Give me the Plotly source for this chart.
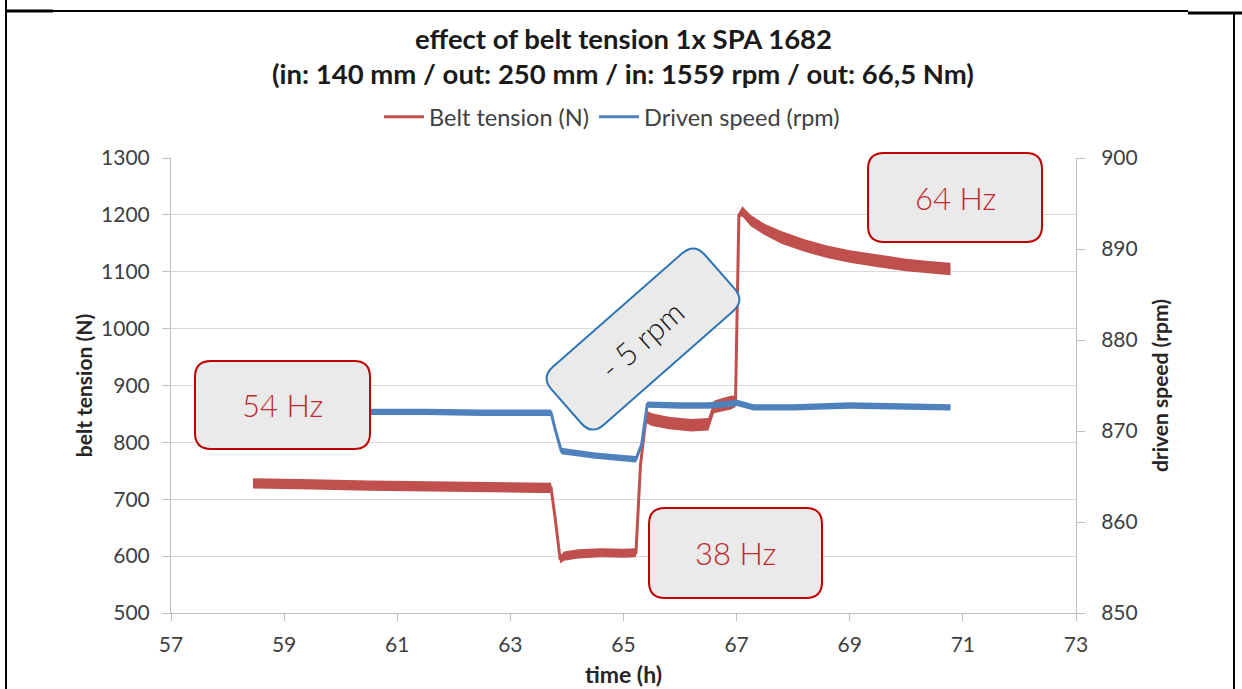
import math
import plotly.graph_objects as go

# ---------------- data ----------------
time_tension = [58.45, 58.8, 59.5, 60.5, 61.5, 62.5, 63.5, 63.72, 63.80, 63.88, 63.95,
                64.2, 64.6, 65.0, 65.22, 65.30, 65.40, 65.50, 65.8, 66.2, 66.5, 66.6,
                66.75, 66.9, 66.98, 67.04, 67.10, 67.25, 67.5, 67.8, 68.2, 68.6, 69.0,
                69.5, 70.0, 70.4, 70.78]
belt_tension = [728, 727, 726, 724, 723, 721, 720, 720, 660, 594, 600,
                604, 606, 605, 606, 760, 845, 840, 834, 830, 832, 862,
                866, 870, 872, 1200, 1206, 1190, 1174, 1160, 1146, 1135, 1127,
                1119, 1112, 1108, 1105]
tension_spread = [9, 9, 9, 9, 9, 9, 9, 9, 5, 7, 8,
                  8, 8, 8, 8, 4, 11, 11, 11, 11, 11, 11,
                  12, 12, 10, 4, 9, 10, 10, 11, 11, 11, 11,
                  11, 11, 11, 11]

time_speed = [58.45, 59.5, 60.5, 61.5, 62.5, 63.5, 63.72, 63.80, 63.90, 64.5, 65.0,
              65.22, 65.32, 65.42, 66.0, 66.5, 66.9, 67.0, 67.3, 68.0, 69.0, 70.0, 70.78]
driven_speed = [872.2, 872.2, 872.1, 872.1, 872.0, 872.0, 872.0, 870.0, 867.8, 867.3, 867.0,
                866.9, 868.5, 872.9, 872.8, 872.8, 873.0, 873.1, 872.6, 872.6, 872.8, 872.7, 872.6]
speed_spread = 0.35

x_ticks = [57, 59, 61, 63, 65, 67, 69, 71, 73]

title_1 = "effect of belt tension 1x SPA 1682"
title_2 = "(in: 140 mm / out: 250 mm / in: 1559 rpm / out: 66,5 Nm)"

RED = "#C0504D"
BLUE = "#4F81BD"

# ---------------- layout geometry ----------------
W, H = 1242, 689
L, R, T, B = 171, 166, 158, 76
PW = W - L - R
PH = H - T - B
PB = T + PH


def paper(px, py):
    return (px - L) / PW, (PB - py) / PH


def rrect(cx, cy, w, h, r, ang=0.0):
    a = math.radians(ang)
    ca, sa = math.cos(a), math.sin(a)
    hw, hh = w / 2, h / 2

    def P(x, y):
        X = cx + x * ca - y * sa
        Y = cy + x * sa + y * ca
        xp, yp = paper(X, Y)
        return f"{xp:.5f},{yp:.5f}"

    return (f"M{P(-hw + r, -hh)} L{P(hw - r, -hh)} Q{P(hw, -hh)} {P(hw, -hh + r)} "
            f"L{P(hw, hh - r)} Q{P(hw, hh)} {P(hw - r, hh)} L{P(-hw + r, hh)} "
            f"Q{P(-hw, hh)} {P(-hw, hh - r)} L{P(-hw, -hh + r)} Q{P(-hw, -hh)} {P(-hw + r, -hh)} Z")


fig = go.Figure()

# noise bands
up = [v + s for v, s in zip(belt_tension, tension_spread)]
lo = [v - s for v, s in zip(belt_tension, tension_spread)]
fig.add_trace(go.Scatter(x=time_tension + time_tension[::-1], y=up + lo[::-1],
                         fill="toself", fillcolor=RED, line=dict(width=0, color=RED),
                         mode="lines", showlegend=False, hoverinfo="skip"))
sup = [v + speed_spread for v in driven_speed]
slo = [v - speed_spread for v in driven_speed]
fig.add_trace(go.Scatter(x=time_speed + time_speed[::-1], y=sup + slo[::-1], yaxis="y2",
                         fill="toself", fillcolor=BLUE, line=dict(width=0, color=BLUE),
                         mode="lines", showlegend=False, hoverinfo="skip"))

fig.add_trace(go.Scatter(x=time_tension, y=belt_tension, mode="lines",
                         name="Belt tension (N)", line=dict(color=RED, width=3)))
fig.add_trace(go.Scatter(x=time_speed, y=driven_speed, mode="lines", yaxis="y2",
                         name="Driven speed (rpm)", line=dict(color=BLUE, width=3)))

FONT = "Lato, 'Open Sans', sans-serif"
AX = "#BFBFBF"
TXT = "#404040"

shapes = []


def pline(x0, y0, x1, y1, w=2):
    a0 = paper(x0, y0)
    a1 = paper(x1, y1)
    return dict(type="line", xref="paper", yref="paper", x0=a0[0], y0=a0[1], x1=a1[0], y1=a1[1],
                line=dict(color="black", width=w), layer="above")


shapes += [pline(6, 11, 1188, 11), pline(6, 11, 53, 11, 3), pline(1188, 13, 1242, 13, 3),
           pline(6, 0, 6, 689), pline(1234, 12, 1234, 689)]

BOX_FILL = "#EAEAEA"
BOX_RED = "#C00000"
BOX_BLUE = "#2E75B6"
boxes = [
    ("54 Hz", 282.5, 405, 175, 88, 0.0, BOX_RED),
    ("38 Hz", 735.5, 553, 173, 90, 0.0, BOX_RED),
    ("64 Hz", 955, 197.5, 174, 89, 0.0, BOX_RED),
]
for _, cx, cy, w, h, ang, col in boxes:
    shapes.append(dict(type="path", xref="paper", yref="paper", path=rrect(cx, cy, w, h, 16, ang),
                       fillcolor=BOX_FILL, line=dict(color=col, width=2), layer="above"))
shapes.append(dict(type="path", xref="paper", yref="paper", path=rrect(643, 339, 204, 77, 16, -41.3),
                   fillcolor=BOX_FILL, line=dict(color=BOX_BLUE, width=2), layer="above"))

annotations = []
for txt, cx, cy, w, h, ang, col in boxes:
    xp, yp = paper(cx, cy)
    annotations.append(dict(text=txt, xref="paper", yref="paper", x=xp, y=yp, showarrow=False,
                            xanchor="center", yanchor="middle",
                            font=dict(family=FONT, size=31, color="#C0282D", weight=300)))
xp, yp = paper(641, 340)
annotations.append(dict(text="- 5 rpm", xref="paper", yref="paper", x=xp, y=yp, showarrow=False,
                        xanchor="center", yanchor="middle", textangle=-41.3,
                        font=dict(family=FONT, size=31, color="#1A1A1A", weight=300)))
for txt, py in [(title_1, 38), (title_2, 73)]:
    xp, yp = paper(623, py)
    annotations.append(dict(text=txt, xref="paper", yref="paper", x=xp, y=yp, showarrow=False,
                            xanchor="center", yanchor="middle",
                            font=dict(family=FONT, size=27.5, color="#1A1A1A", weight=700)))

lx, ly = paper(612, 117)

fig.update_layout(
    width=W, height=H,
    margin=dict(l=L, r=R, t=T, b=B, autoexpand=False),
    paper_bgcolor="white", plot_bgcolor="white",
    font=dict(family=FONT, color=TXT),
    showlegend=True,
    legend=dict(orientation="h", x=lx, y=ly, xanchor="center", yanchor="middle",
                font=dict(family=FONT, size=23.5, color=TXT), bgcolor="rgba(0,0,0,0)",
                itemwidth=40),
    xaxis=dict(range=[57, 73], tickvals=x_ticks, showgrid=False, zeroline=False,
               showline=True, linecolor=AX, linewidth=1, ticks="outside", ticklen=7,
               tickcolor=AX, tickfont=dict(size=21, color=TXT), ticklabelstandoff=6,
               title=dict(text="time (h)", font=dict(size=23, color="#262626", weight=700), standoff=11)),
    yaxis=dict(range=[500, 1300], dtick=100, showgrid=True, gridcolor="#D9D9D9", gridwidth=1,
               zeroline=False, showline=True, linecolor=AX, linewidth=1, ticks="outside",
               ticklen=8, tickcolor=AX, tickfont=dict(size=21, color=TXT), ticklabelstandoff=8,
               title=dict(text="belt tension (N)", font=dict(size=21, color="#262626", weight=700),
                          standoff=2)),
    yaxis2=dict(range=[850, 900], dtick=10, overlaying="y", side="right", showgrid=False,
                zeroline=False, showline=True, linecolor=AX, linewidth=1, ticks="outside",
                ticklen=8, tickcolor=AX, tickfont=dict(size=21, color=TXT), ticklabelstandoff=12,
                title=dict(text="driven speed (rpm)", font=dict(size=21, color="#262626", weight=700),
                           standoff=16)),
    shapes=shapes,
    annotations=annotations,
)

fig.write_html("out.html", config={"displayModeBar": False},
               post_script="document.body.style.margin='0';")
